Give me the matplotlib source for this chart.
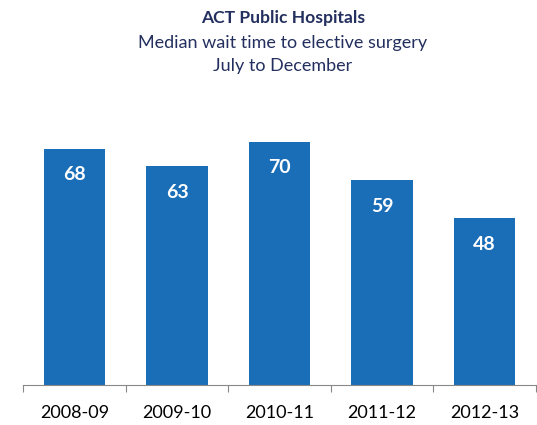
import matplotlib.pyplot as plt

years = ["2008-09", "2009-10", "2010-11", "2011-12", "2012-13"]
wait_days = [68, 63, 70, 59, 48]

plt.rcParams['font.family'] = ['Lato', 'DejaVu Sans']

fig = plt.figure(figsize=(5.37, 4.25), dpi=100)
ax = fig.add_axes([0.043, 0.093, 0.955, 0.655])

x = range(len(years))
bars = ax.bar(x, wait_days, width=0.6, color='#1a6eb7')
for b, v in zip(bars, wait_days):
    ax.text(b.get_x() + b.get_width() / 2, v - 7.5, str(v), ha='center', va='center',
            color='white', fontsize=14, fontweight='bold')

ax.set_xlim(-0.5, len(years) - 0.5)
ax.set_ylim(0, 80)
ax.set_yticks([])
for s in ['top', 'right', 'left']:
    ax.spines[s].set_visible(False)
ax.spines['bottom'].set_color('#888888')
ax.set_xticks([i - 0.5 for i in range(len(years) + 1)], minor=False)
ax.set_xticklabels([])
ax.tick_params(axis='x', length=5, color='#888888', direction='out')
ax.set_xticks(list(x), minor=True)
ax.set_xticklabels(years, minor=True, fontsize=13)
ax.tick_params(axis='x', which='minor', length=0, pad=14)

navy = '#232f5e'
fig.text(0.527, 0.958, "ACT Public Hospitals", ha='center', va='center',
         fontsize=12.6, fontweight='bold', color=navy)
fig.text(0.527, 0.899, "Median wait time to elective surgery", ha='center', va='center',
         fontsize=13, color=navy)
fig.text(0.527, 0.845, "July to December", ha='center', va='center',
         fontsize=13, color=navy)

fig.savefig('out.png', dpi=100)
